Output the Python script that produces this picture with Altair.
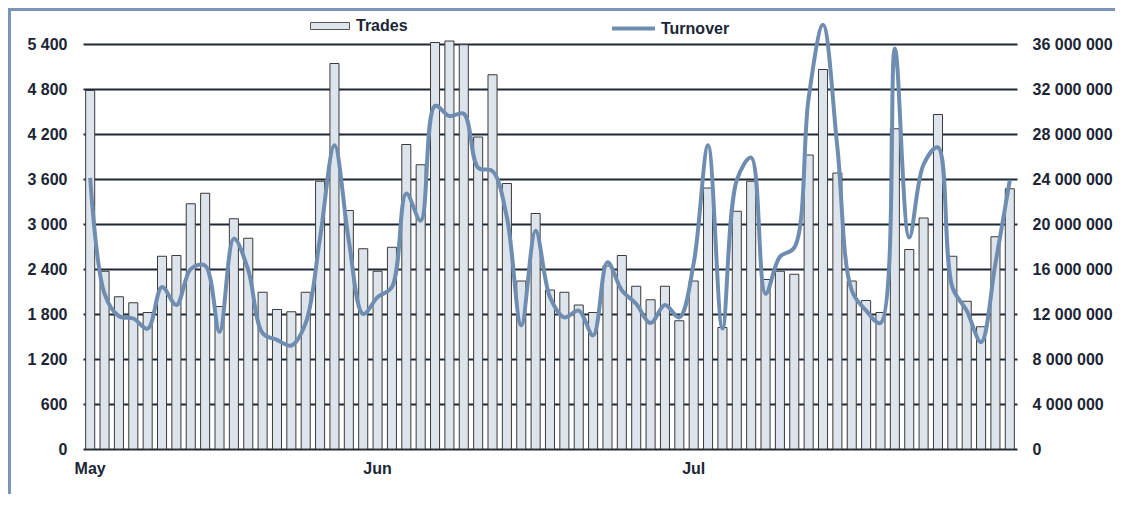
import altair as alt
import pandas as pd

# ---- data ----
trades = [4780, 2370, 2030, 1950, 1820, 2570, 2580, 3270, 3410, 1900,
          3070, 2810, 2090, 1860, 1830, 2090, 3570, 5140, 3180, 2670,
          2370, 2690, 4060, 3790, 5420, 5440, 5390, 4160, 4990, 3540,
          2240, 3140, 2120, 2090, 1920, 1820, 2440, 2580, 2170, 1990,
          2170, 1710, 2240, 3480, 1620, 3170, 3570, 2260, 2370, 2330,
          3920, 5060, 3680, 2240, 1980, 1820, 4270, 2660, 3080, 4460,
          2570, 1970, 1630, 2830, 3470]

turnover = [24100000, 13800000, 11800000, 11600000, 10700000, 14400000, 12800000, 16000000, 16300000, 10400000,
            18700000, 15900000, 10300000, 9700000, 9200000, 11200000, 18800000, 27000000, 18500000, 12000000,
            13500000, 14400000, 22700000, 20300000, 30500000, 29600000, 29800000, 25000000, 24700000, 20600000,
            11000000, 19400000, 13500000, 11700000, 12300000, 10100000, 16600000, 14100000, 12900000, 11200000,
            12800000, 11700000, 16500000, 27000000, 10700000, 23900000, 25900000, 13800000, 17100000, 17900000,
            31200000, 37700000, 26800000, 14100000, 12300000, 11200000, 35600000, 18800000, 25300000, 26800000,
            14400000, 12300000, 9500000, 16500000, 23900000]

month_names = ["May", "Jun", "Jul"]
month_start = [0, 20, 42]

left_ticks = [0, 600, 1200, 1800, 2400, 3000, 3600, 4200, 4800, 5400]
right_ticks = [0, 4000000, 8000000, 12000000, 16000000, 20000000,
               24000000, 28000000, 32000000, 36000000]

series_names = ["Trades", "Turnover"]

df = pd.DataFrame({
    "idx": list(range(len(trades))),
    "Trades": trades,
    "Turnover": turnover,
    "sb": series_names[0],
    "sl": series_names[1],
})

FONT = "Liberation Sans"
TXT = "#1b2535"
GRID = "#1e2836"
BAR_FILL = "#dde4eb"
LINE_COL = "#6e8db1"
BORDER = "#7a95b5"

month_expr = "''"
for name, start in reversed(list(zip(month_names, month_start))):
    month_expr = f"datum.value == {start} ? '{name}' : " + month_expr

space_fmt = "replace(format(datum.value, ','), regexp(',', 'g'), ' ')"

x_enc = alt.X(
    "idx:O",
    scale=alt.Scale(paddingInner=0.37, paddingOuter=0.185),
    axis=alt.Axis(values=month_start, labelExpr=month_expr, labelAngle=0,
                  ticks=False, tickSize=0, domain=False, grid=False,
                  labelPadding=11, labelBaseline="top", title=None),
)

base = alt.Chart(df)

bars = base.mark_bar(stroke="#3a3a3a", strokeWidth=1).encode(
    x=x_enc,
    y=alt.Y("Trades:Q",
            scale=alt.Scale(domain=[0, 5400], nice=False, zero=True),
            axis=alt.Axis(values=left_ticks, labelExpr=space_fmt, grid=True,
                          gridColor=GRID, gridWidth=2, gridOpacity=1,
                          ticks=False, tickSize=0, domain=False,
                          labelPadding=16, title=None)),
    fill=alt.Fill("sb:N",
                  scale=alt.Scale(domain=[series_names[0]], range=[BAR_FILL]),
                  legend=alt.Legend(orient="none", legendX=227, legendY=-38,
                                    title=None, padding=0,
                                    symbolType="M-1,-0.18H1V0.18H-1Z",
                                    symbolSize=1521, symbolStrokeColor="#555555",
                                    symbolStrokeWidth=1, labelOffset=6)),
)

line = base.mark_line(interpolate="catmull-rom", strokeWidth=4).encode(
    x=x_enc,
    y=alt.Y("Turnover:Q",
            scale=alt.Scale(domain=[0, 36000000], nice=False, zero=True),
            axis=alt.Axis(orient="right", values=right_ticks,
                          labelExpr="(datum.value < 10000000 ? '\u2007' : '') + " + space_fmt,
                          grid=False, ticks=False, tickSize=0, domain=False,
                          labelPadding=15, title=None)),
    stroke=alt.Stroke("sl:N",
                      scale=alt.Scale(domain=[series_names[1]], range=[LINE_COL]),
                      legend=alt.Legend(orient="none", legendX=527, legendY=-39,
                                        title=None, padding=0,
                                        symbolType="stroke", symbolSize=1849,
                                        symbolStrokeWidth=4, labelOffset=4)),
)

one = alt.Chart(pd.DataFrame({"a": [0]}))
left_border = one.mark_rule(color=BORDER, strokeWidth=3).encode(
    x=alt.value(-73.5), y=alt.value(-36), y2=alt.value(460))
top_border = one.mark_rule(color=BORDER, strokeWidth=3).encode(
    x=alt.value(-75), x2=alt.value(1040), y=alt.value(-34.5))

chart = (
    alt.layer(bars, line, left_border, top_border)
    .resolve_scale(y="independent", fill="independent", stroke="independent")
    .properties(width=934, height=405,
                autosize=alt.AutoSizeParams(type="none"),
                padding={"left": 75, "top": 36, "right": 98, "bottom": 45},
                background="white")
    .configure_view(stroke=None)
    .configure_axis(labelFont=FONT, labelFontSize=16, labelFontWeight="bold",
                    labelColor=TXT)
    .configure_legend(labelFont=FONT, labelFontSize=16, labelFontWeight="bold",
                      labelColor=TXT)
)

chart.save("out.html", embed_options={"renderer": "svg", "actions": False})
